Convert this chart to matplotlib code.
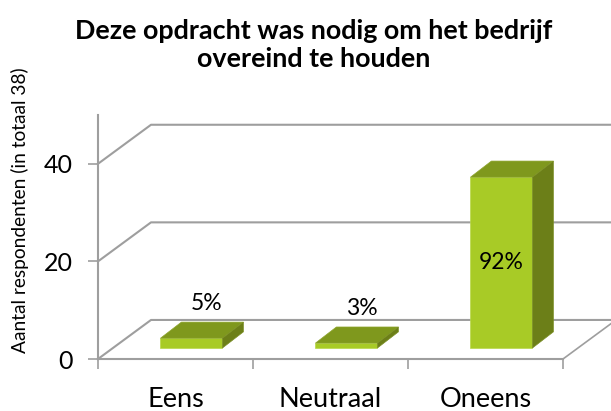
"""Pseudo-3D column chart: Deze opdracht was nodig om het bedrijf overeind te houden."""
import matplotlib
matplotlib.use("Agg")
import matplotlib.pyplot as plt
from matplotlib.patches import Polygon

categories = ["Eens", "Neutraal", "Oneens"]
counts = [2, 1, 35]
pct_labels = ["5%", "3%", "92%"]
yticks = [0, 20, 40]

plt.rcParams["font.family"] = ["Lato", "DejaVu Sans"]

GRID = "#9e9e9e"
FRONT, TOP, SIDE = "#a8cb26", "#7f981d", "#6c7f18"
DX, DY = 0.342, 8.0        # depth of the floor, in data units
BAR_W = 0.40
BAR_DX, BAR_DY = 0.135, 3.3  # depth of a bar
BASE = 2.26                # bars stand halfway the floor

fig = plt.figure(figsize=(6.11, 4.11), dpi=100)
ax = fig.add_axes([98 / 611, 52 / 411, 465 / 611, 244 / 411])
ax.set_xlim(0, 3)
ax.set_ylim(0, 50)
ax.patch.set_visible(False)

# walls and floor
for v in yticks:
    ax.plot([0, DX, 3 + DX], [v, v + DY, v + DY], color=GRID, lw=1.5,
            clip_on=False, zorder=1)
ax.plot([3, 3 + DX], [0, DY], color=GRID, lw=1.2, clip_on=False, zorder=1)

for i, val in enumerate(counts):
    x0 = i + 0.403
    x1 = x0 + BAR_W
    y0 = BASE
    y1 = BASE + val
    ax.add_patch(Polygon([(x0, y0), (x1, y0), (x1, y1), (x0, y1)],
                         fc=FRONT, ec="#b8d84a", lw=0.5, zorder=3))
    ax.add_patch(Polygon([(x0, y1), (x1, y1), (x1 + BAR_DX, y1 + BAR_DY), (x0 + BAR_DX, y1 + BAR_DY)],
                         fc=TOP, ec="#8ea52c", lw=0.5, zorder=3))
    ax.add_patch(Polygon([(x1, y0), (x1 + BAR_DX, y0 + BAR_DY), (x1 + BAR_DX, y1 + BAR_DY), (x1, y1)],
                         fc=SIDE, ec="#7b8f25", lw=0.5, zorder=3))
    # data labels: above the small bars, inside the tall one
    if val > 10:
        lx, ly = x0 + BAR_W / 2, BASE + val / 2
    else:
        lx, ly = x0 + BAR_W / 2 + 0.1, y1 + BAR_DY + 3.8
    ax.text(lx, ly, pct_labels[i], ha="center", va="center", fontsize=16.5,
            color="black", zorder=4)

for s in ("top", "right"):
    ax.spines[s].set_visible(False)
for s in ("left", "bottom"):
    ax.spines[s].set_color(GRID)
    ax.spines[s].set_linewidth(1.5)

ax.set_xticks([0, 1, 2, 3])
ax.set_xticklabels([])
ax.set_xticks([0.5, 1.5, 2.5], labels=categories, minor=True)
ax.tick_params(axis="x", which="major", length=7, width=1.2, color=GRID)
ax.tick_params(axis="x", which="minor", length=0, pad=20, labelsize=19.5)
ax.set_yticks(yticks)
ax.tick_params(axis="y", length=7, width=1.2, color=GRID, labelsize=18, pad=11)

fig.text(20 / 611, 1 - 210 / 411, "Aantal respondenten (in totaal 38)", rotation=90,
         ha="center", va="center", fontsize=13.8)
fig.text(314 / 611, 1 - 45 / 411, "Deze opdracht was nodig om het bedrijf\novereind te houden",
         ha="center", va="center", fontsize=19.4, fontweight="bold", linespacing=1.17)

fig.savefig("out.png", dpi=100)
